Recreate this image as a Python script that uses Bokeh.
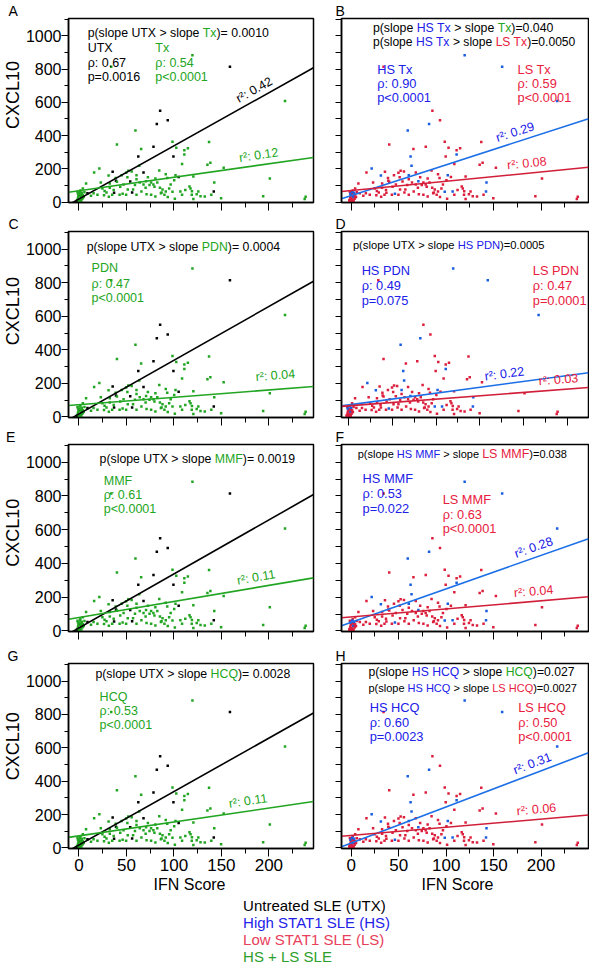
import math
from bokeh.plotting import figure
from bokeh.layouts import column, row
from bokeh.models import FixedTicker, Range1d, CustomJSTickFormatter, Title
from bokeh.core.properties import value
from bokeh.embed import file_html
from bokeh.resources import INLINE

FONT = "Liberation Sans"

# ---------------- data ----------------
# every patient: IFN score, CXCL10, treatment group, STAT1 group
ifn_score = [
    159, 85.5, 93.5, 82, 78.5, 62.5, 99.5, 35.5, 68, 39, 54, 105, 37, 56, 142, 9, 1, -2, 4, 0,
    119.5, 217, 59.5, 40, 98.5, 137, 65.5, 102.5, 114.7, 111, 111, 108.6, 138.4, 135.3, 152.4,
    16, 21.5, 63.5, 52, 49.7, 31.2, 38.7, 40, 60.6, 84.6, 72.6, 80.5, 82.5, 91.4, 93, 101.7,
    100.3, 116.4, 120.5, 120.5, 142.5, 124, 149.7, 194, 201, 238.7, 237.7, 98.5, 95, 96.6, 88,
    87, 90, 108.6, 101, 117.5, 70.7, 70.2, 74.3, 78.4, 68, 76, 80.5, 71.2, 65.8, 60.6, 57, 49.7,
    46, 42.8, 35, 31.5, 29, 26.4, 24.7, 19.5, 15.4, 12.7, 7.5, 5.8, 4.1, 2.4, 0, 1, -1, 2, 0.5,
    -1.5, 1.5, 3, -0.5, 0, 2.5, -2, 1, 4, -1, 3.5, 0.5, 5, 27, 32.5, 36.6, 43.5, 47, 51.4, 59,
    64, 76, 79.5, 85.3, 86.3, 91.4, 93.5, 106.8, 112, 118.8, 125.7, 132.5, 139.4, 55.5, 45, 51,
    32.5, 23, 60.6, 119, 128, 34,
]
cxcl10 = [
    815, 550, 492, 469, 332, 274, 274, 182, 178, 128, 124, 150, 56, 57, 63, 53, 12, 4, 28, 40,
    884, 608, 430, 346, 363, 361, 319, 327, 323, 312, 286, 229, 237, 225, 207,
    178, 202, 218, 188, 176, 159, 145, 122, 161, 190, 149, 141, 118, 167, 145, 161,
    131, 94, 153, 18, 118, 47, 22, 35, 141, 31, 18, 62, 82, 106, 76,
    57, 43, 43, 20, 82, 125, 86, 102, 106, 106, 43, 33, 47, 63, 43, 76, 43,
    50, 43, 43, 31, 57, 41, 82, 43, 53, 37, 112, 59, 82, 43, 5, 15, 25, 30, 48,
    60, 70, 55, 35, 18, 8, 12, 62, 40, 50, 20, 0, 30, 67, 86, 72, 92, 106, 76, 102,
    118, 118, 92, 86, 53, 63, 30, 63, 72, 43, 63, 33, 43, 184, 161, 149,
    112, 118, 137, 65, 35, 815,
]
treatment = ["UTX"] * 20 + ["Tx"] * (len(ifn_score) - 20)
stat1 = [
    "HS", "LS", "LS", "HS", "LS", "HS", "LS", "LS", "LS", "LS", "LS", "LS", "LS", "LS", "HS", "LS", "HS", "LS", "LS", "HS",
    "HS", "HS", "HS", "LS", "LS", "LS", "LS", "LS", "LS", "LS", "HS", "LS", "LS", "LS", "LS",
    "LS", "HS", "HS", "LS", "LS", "HS", "LS", "LS", "HS", "LS", "LS", "LS", "LS", "LS", "LS", "HS",
    "LS", "LS", "LS", "LS", "HS", "LS", "LS", "LS", "LS", "LS", "LS", "HS", "LS", "LS", "LS",
    "LS", "LS", "LS", "LS", "LS", "HS", "LS", "LS", "LS", "LS", "LS", "LS", "LS", "LS", "LS", "LS", "LS",
    "HS", "LS", "LS", "LS", "LS", "LS", "LS", "LS", "LS", "LS", "LS", "LS", "LS", "LS", "LS", "LS", "LS", "HS", "LS",
    "LS", "LS", "HS", "LS", "LS", "LS", "LS", "HS", "LS", "HS", "LS", "LS", "LS", "LS", "LS", "LS", "LS", "LS", "LS", "LS",
    "LS", "LS", "LS", "LS", "LS", "LS", "LS", "HS", "LS", "LS", "LS", "LS", "LS", "LS", "LS", "LS",
    "LS", "LS", "LS", "LS", "LS", "LS",
]

# regression lines (intercept, slope)
fit_utx = (18.0, 3.2)
fit_tx = {"A": (68.0, 0.81), "C": (73.0, 0.44), "E": (80.0, 0.95), "G": (73.0, 0.83)}
fit_hs = {"B": (39.0, 1.85), "D": (72.0, 0.70), "F": (52.0, 1.98), "H": (30.0, 2.16)}
fit_ls = {"B": (69.0, 0.56), "D": (66.5, 0.40), "F": (83.0, 0.48), "H": (75.0, 0.49)}
r2_utx = "r²: 0.42"
r2_tx = {"A": "r²: 0.12", "C": "r²: 0.04", "E": "r²: 0.11", "G": "r²: 0.11"}
r2_hs = {"B": "r²: 0.29", "D": "r²: 0.22", "F": "r²: 0.28", "H": "r²: 0.31"}
r2_ls = {"B": "r²: 0.08", "D": "r²: 0.03", "F": "r²: 0.04", "H": "r²: 0.06"}

x_major = [0, 50, 100, 150, 200]
x_minor = [25, 75, 125, 175, 225]
x_major_d = [0, 50, 100, 150, 200, 250]
x_minor_d = [25, 75, 125, 175, 225]
y_major = [0, 200, 400, 600, 800, 1000]
y_minor = [100, 300, 500, 700, 900, 1100]
y_all = [0, 100, 200, 300, 400, 500, 600, 700, 800, 900, 1000, 1100]

legend_lines = ["Untreated SLE (UTX)", "High STAT1 SLE (HS)", "Low STAT1 SLE (LS)", "HS + LS SLE"]

# ---------------- styles ----------------
K = "#000000"
GR = "#22a522"
BT = "#2020e8"
RT = "#e8203e"
BLINE = "#1c6fe6"
RLINE = "#d11f3a"
BPT = "#1a5ee0"
RPT = "#dc1f3c"
LEG_COLORS = [K, "#2323e8", "#e8405a", "#2ca02c"]

YR = (-3, 1105)
XR_L = (-11, 247)
XR_R = (-10.3, 250)
XR_D = (-8, 274)

COLS = [(63, 245, 13, 252), (15, 247, 1, 254)]          # left border, frame w, right border, ref frame w
ROWS = [(16, 184, 11, 188), (16, 186, 9, 189), (16, 187, 14, 190), (16, 185, 48, 188)]
LEG_H = 70

AW = {' ': 278, '(': 333, ')': 333, '+': 584, '.': 278, ':': 278, '<': 584, '=': 584, '>': 584,
      'A': 667, 'B': 667, 'C': 722, 'D': 722, 'E': 667, 'F': 611, 'G': 778, 'H': 722, 'I': 278,
      'L': 556, 'M': 833, 'N': 722, 'P': 667, 'Q': 778, 'S': 667, 'T': 611, 'U': 722, 'X': 667,
      'a': 556, 'c': 500, 'd': 556, 'e': 556, 'l': 222, 'n': 556, 'o': 556, 'p': 556, 'r': 333,
      's': 500, 't': 278, 'x': 500, 'ρ': 577, '²': 333}


def text_w(s, fs):
    return sum(AW.get(c, 556) for c in s) / 1000.0 * fs


def make_fig(ci, ri, xr, xlabels, ylabels, xt, xm):
    lb, fw, rb, refw = COLS[ci]
    tb, fh, bb, refh = ROWS[ri]
    p = figure(frame_width=fw, frame_height=fh, min_border_left=lb, min_border_right=rb,
               min_border_top=tb, min_border_bottom=bb, x_range=Range1d(*xr), y_range=Range1d(*YR),
               output_backend="svg", toolbar_location=None, tools="", title=None)
    p.xgrid.visible = False
    p.ygrid.visible = False
    p.outline_line_color = "black"
    p.outline_line_width = 1.5
    p.background_fill_color = "white"
    p.border_fill_color = "white"
    xa = p.xaxis[0]
    xa.ticker = FixedTicker(ticks=xt, minor_ticks=xm)
    xa.major_tick_out = 8
    xa.major_tick_in = 0
    xa.minor_tick_out = 5
    xa.minor_tick_in = 0
    xa.axis_line_width = 1.5
    xa.major_tick_line_width = 1
    xa.minor_tick_line_width = 1
    if xlabels:
        xa.major_label_text_font = FONT
        xa.major_label_text_font_size = "17px"
        xa.major_label_text_color = "black"
        xa.major_label_standoff = 2
    else:
        xa.formatter = CustomJSTickFormatter(code="return ''")
        xa.major_label_text_font_size = "0px"
        xa.major_label_standoff = 0
    ya = p.yaxis[0]
    ya.axis_line_width = 1.5
    ya.major_tick_in = 0
    ya.minor_tick_in = 0
    if ylabels:
        ya.ticker = FixedTicker(ticks=y_major, minor_ticks=y_minor)
        ya.major_tick_out = 7
        ya.minor_tick_out = 4
        ya.major_label_text_font = FONT
        ya.major_label_text_font_size = "16px"
        ya.major_label_text_color = "black"
        ya.major_label_standoff = 0
    else:
        ya.ticker = FixedTicker(ticks=y_all, minor_ticks=[])
        ya.major_tick_out = 6
        ya.formatter = CustomJSTickFormatter(code="return ''")
        ya.major_label_text_font_size = "0px"
        ya.major_label_standoff = 0
    info = dict(lb=lb, tb=tb, fw=fw, fh=fh, refw=refw, refh=refh, xr=xr, yr=YR)
    return p, info


def seg_text(p, info, dx, dy, segs, fs):
    x0, x1 = info["xr"]
    y0, y1 = info["yr"]
    xd = x0 + dx / info["refw"] * (x1 - x0)
    yd = y1 - dy / info["refh"] * (y1 - y0)
    upx = (x1 - x0) / info["fw"]
    cur = 0.0
    for s in segs:
        txt, col = s[0], s[1]
        size = s[2] if len(s) > 2 else fs
        lead = len(txt) - len(txt.lstrip(" "))
        core = txt.strip(" ")
        xs = xd + (cur + text_w(" " * lead, size)) * upx
        p.text(x=[xs], y=[yd], text=[core], text_color=col, text_font=value(FONT),
               text_font_size=f"{size}px", text_baseline="middle", text_align="left")
        cur += text_w(txt, size)


def stat_block(p, info, dx, dys, lines, color, fs=12.5):
    for dy, t in zip(dys, lines):
        seg_text(p, info, dx, dy, [(t, color)], fs)


def screen_angle(info, slope):
    x0, x1 = info["xr"]
    y0, y1 = info["yr"]
    return math.atan(slope * (info["fh"] / (y1 - y0)) / (info["fw"] / (x1 - x0)))


def fit_line(p, info, fit, color):
    a, b = fit
    x0, x1 = info["xr"]
    p.line(x=[x0, x1], y=[a + b * x0, a + b * x1], line_color=color, line_width=1.6)


def r2_on_line(p, info, text, x, fit, color, fs=12.5, lift=3):
    a, b = fit
    y0, y1 = info["yr"]
    y = a + b * x + lift * (y1 - y0) / info["fh"]
    p.text(x=[x], y=[y], text=[text], angle=screen_angle(info, b), text_color=color,
           text_font=value(FONT), text_font_size=f"{fs}px", text_baseline="bottom", text_align="left")


def title_letter(p, t, offset):
    p.add_layout(Title(text=t, align="left", offset=offset, standoff=0, text_font=FONT,
                       text_font_size="14px", text_font_style="normal", text_color="black"), "above")


def title_ylabel(p, offset):
    p.add_layout(Title(text="CXCL10", align="right", offset=offset, standoff=0, text_font=FONT,
                       text_font_size="18px", text_font_style="normal", text_color="black"), "left")


def title_xlabel(p, offset):
    p.add_layout(Title(text="IFN Score", align="left", offset=offset, standoff=0, text_font=FONT,
                       text_font_size="16px", text_font_style="normal", text_color="black"), "below")


def points_left(p):
    cols = [K if t == "UTX" else GR for t in treatment]
    p.scatter(x=ifn_score, y=cxcl10, marker="square", size=2.5, fill_color=cols, line_color=None)


def points_right(p):
    cols = [BPT if s == "HS" else RPT for s in stat1]
    p.scatter(x=ifn_score, y=cxcl10, marker="square", size=2.5, fill_color=cols, line_color=None)


# ---------- left column ----------
left_specs = [
    dict(k="A", ri=0, head=(19.7, 15, [("p(slope UTX > slope ", K), ("Tx", GR), (")= 0.0010", K)]),
         stats=[(19.7, [30, 45, 60], ["UTX", "ρ: 0.67", "p=0.0016"], K),
                (89.3, [30, 45, 60], ["Tx", "ρ: 0.54", "p<0.0001"], GR)],
         r2x=169.7, r2u=170, letter=-60, ylab=42.5),
    dict(k="C", ri=1, head=(18.7, 15.7, [("p(slope UTX > slope ", K), ("PDN", GR), (")= 0.0004", K)]),
         stats=[(23.7, [37.3, 53.3, 67.3], ["PDN", "ρ: 0.47", "p<0.0001"], GR)],
         r2x=None, r2u=None, letter=-60, ylab=45.6),
    dict(k="E", ri=2, head=(32, 14.3, [("p(slope UTX > slope ", K), ("MMF", GR), (")= 0.0019", K)]),
         stats=[(36.3, [36.7, 51, 65.7], ["MMF", "ρ: 0.61", "p<0.0001"], GR)],
         r2x=167.7, r2u=None, letter=-62.5, ylab=54.2),
    dict(k="G", ri=3, head=(27.7, 10.7, [("p(slope UTX > slope ", K), ("HCQ", GR), (")= 0.0028", K)]),
         stats=[(32, [34, 48, 63], ["HCQ", "ρ: 0.53", "p<0.0001"], GR)],
         r2x=159, r2u=None, letter=-61, ylab=48.7),
]

right_specs = [
    dict(k="B", ri=0, xr=XR_R, heads=[
        (32.3, 10, [("p(slope ", K), ("HS Tx", BT), (" > slope ", K), ("Tx", GR), (")=0.040", K)], 12.3),
        (32.3, 24, [("p(slope ", K), ("HS Tx", BT), (" > slope ", K), ("LS Tx", RT), (")=0.0050", K)], 12.1)],
         stats=[(36.7, [51.7, 66.7, 81], ["HS Tx", "ρ: 0.90", "p<0.0001"], BT),
                (181, [51.7, 66.7, 81], ["LS Tx", "ρ: 0.59", "p<0.0001"], RT)],
         r2hx=155, r2lx=165),
    dict(k="D", ri=1, xr=XR_D, heads=[
        (11.7, 14, [("p(slope UTX > slope ", K), ("HS PDN", BT), (")=0.0005", K)], 11.2)],
         stats=[(20.7, [40, 55, 70], ["HS PDN", "ρ: 0.49", "p=0.075"], BT),
                (196.7, [40, 55, 70], ["LS PDN", "ρ: 0.47", "p=0.0001"], RT)],
         r2hx=156.7, r2lx=217.8),
    dict(k="F", ri=2, xr=XR_R, heads=[
        (16.7, 10, [("p(slope ", K), ("HS MMF", BT), (" > slope ", K), ("LS MMF", RT, 12.5), (")=0.038", K)], 11)],
         stats=[(21.7, [35, 50, 65], ["HS MMF", "ρ: 0.53", "p=0.022"], BT),
                (104, [55.7, 70.7, 85], ["LS MMF", "ρ: 0.63", "p<0.0001"], RT)],
         r2hx=175, r2lx=172),
    dict(k="H", ri=3, xr=XR_R, heads=[
        (27.7, 9, [("p(slope ", K), ("HS HCQ", BT), (" > slope ", K), ("HCQ", GR), (")=0.027", K)], 12.2),
        (27.7, 25, [("p(slope ", K), ("HS HCQ", BT), (" > slope ", K), ("LS HCQ", RT), (")=0.0027", K)], 11)],
         stats=[(29, [45, 60, 74.3], ["HS HCQ", "ρ: 0.60", "p=0.0023"], BT),
                (181.7, [45, 60, 74.3], ["LS HCQ", "ρ: 0.50", "p<0.0001"], RT)],
         r2hx=174, r2lx=175),
]

rows = []
for ls, rs in zip(left_specs, right_specs):
    last = ls["ri"] == 3
    # left panel
    pl, il = make_fig(0, ls["ri"], XR_L, last, True, x_major, x_minor)
    points_left(pl)
    fit_line(pl, il, fit_utx, K)
    fit_line(pl, il, fit_tx[ls["k"]], GR)
    dx, dy, segs = ls["head"]
    seg_text(pl, il, dx, dy, segs, 12.3)
    for sdx, dys, lines, col in ls["stats"]:
        stat_block(pl, il, sdx, dys, lines, col)
    if ls["r2u"] is not None:
        r2_on_line(pl, il, r2_utx, ls["r2u"], fit_utx, K)
    if ls["r2x"] is not None:
        r2_on_line(pl, il, r2_tx[ls["k"]], ls["r2x"], fit_tx[ls["k"]], GR)
    else:
        a, b = fit_tx[ls["k"]]
        pl.text(x=[186], y=[238], text=[r2_tx[ls["k"]]], angle=screen_angle(il, b), text_color=GR,
                text_font=value(FONT), text_font_size="12.5px", text_baseline="middle", text_align="left")
    title_letter(pl, ls["k"], ls["letter"])
    title_ylabel(pl, ls["ylab"])
    if last:
        title_xlabel(pl, 85)

    # right panel
    xt = x_major_d if rs["k"] == "D" else x_major
    xm = x_minor_d if rs["k"] == "D" else x_minor
    pr, ir = make_fig(1, rs["ri"], rs["xr"], last, False, xt, xm)
    points_right(pr)
    fit_line(pr, ir, fit_hs[rs["k"]], BLINE)
    fit_line(pr, ir, fit_ls[rs["k"]], RLINE)
    for hdx, hdy, segs, fs in rs["heads"]:
        seg_text(pr, ir, hdx, hdy, segs, fs)
    for sdx, dys, lines, col in rs["stats"]:
        stat_block(pr, ir, sdx, dys, lines, col, 12.8)
    r2_on_line(pr, ir, r2_hs[rs["k"]], rs["r2hx"], fit_hs[rs["k"]], BT)
    r2_on_line(pr, ir, r2_ls[rs["k"]], rs["r2lx"], fit_ls[rs["k"]], RT)
    title_letter(pr, rs["k"], -6)
    if last:
        title_xlabel(pr, 80)
    rows.append(row(pl, pr))

# legend block
lg = figure(frame_width=584, frame_height=LEG_H, min_border_left=0, min_border_right=0, min_border_top=0,
            min_border_bottom=0, x_range=Range1d(0, 584), y_range=Range1d(LEG_H, 0), x_axis_type=None,
            y_axis_type=None, output_backend="svg", toolbar_location=None, tools="", title=None)
lg.outline_line_color = None
lg.xgrid.visible = False
lg.ygrid.visible = False
lg.background_fill_color = "white"
lg.border_fill_color = "white"
for i, (t, c) in enumerate(zip(legend_lines, LEG_COLORS)):
    lg.text(x=[242.6], y=[9 + 17 * i], text=[t], text_color=c, text_font=value(FONT),
            text_font_size="15px", text_baseline="middle", text_align="left")

layout = column(*rows, lg)
open("out.html", "w").write(file_html(layout, INLINE))
